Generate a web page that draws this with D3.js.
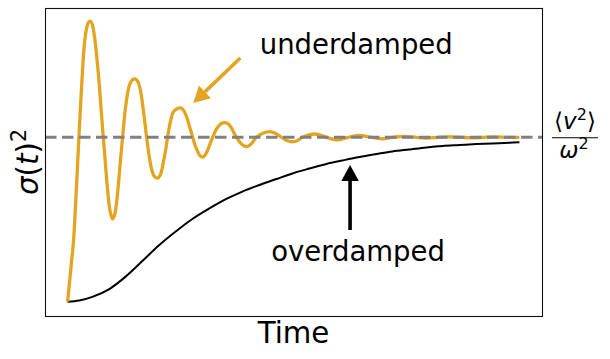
<!DOCTYPE html>
<html>
<head>
<meta charset="utf-8">
<script src="https://cdn.jsdelivr.net/npm/d3@7"></script>
<style>
  body { margin: 0; background: #fff; }
  svg { display: block; font-family: "DejaVu Sans", sans-serif; }
</style>
</head>
<body>
<svg id="chart" width="610" height="359"></svg>
<script>
// underdamped variance (time 0..10, equilibrium = 1)
const underTime = [0, 0.038, 0.082, 0.133, 0.182, 0.237, 0.281, 0.325, 0.370, 0.414, 0.458, 0.496,
  0.536, 0.591, 0.646, 0.702, 0.746, 0.790, 0.834, 0.879, 0.923, 0.961, 0.996,
  1.034, 1.078, 1.122, 1.167, 1.218, 1.266, 1.322, 1.377, 1.432, 1.492,
  1.550, 1.610, 1.676, 1.749, 1.809, 1.864, 1.919, 1.992,
  2.052, 2.108, 2.163, 2.214, 2.274, 2.340, 2.407, 2.462, 2.511,
  2.562, 2.628, 2.695, 2.767, 2.827, 2.894, 2.938, 2.982,
  3.037, 3.093, 3.159, 3.215, 3.270, 3.336, 3.403, 3.485,
  3.558, 3.624, 3.735, 3.845, 3.956, 4.066, 4.177, 4.321, 4.465, 4.598, 4.731,
  4.853, 4.975, 5.086, 5.196, 5.329, 5.462, 5.594, 5.727, 5.971, 6.214, 6.458,
  6.724, 6.967, 7.211, 7.454, 7.720, 7.964, 8.207, 8.451, 8.717, 8.960, 9.204,
  9.447, 9.713, 10.0];
const underValue = [0, 0.102, 0.229, 0.375, 0.619, 0.923, 1.166, 1.380, 1.561, 1.653, 1.698, 1.707,
  1.695, 1.622, 1.488, 1.318, 1.154, 1.002, 0.850, 0.698, 0.582, 0.527, 0.503,
  0.521, 0.588, 0.704, 0.850, 1.002, 1.142, 1.257, 1.324, 1.349, 1.355,
  1.342, 1.288, 1.166, 1.002, 0.880, 0.801, 0.762, 0.752,
  0.771, 0.832, 0.911, 1.002, 1.093, 1.154, 1.172, 1.178, 1.178,
  1.166, 1.130, 1.069, 1.002, 0.947, 0.905, 0.886, 0.880,
  0.889, 0.917, 0.965, 1.002, 1.038, 1.066, 1.084, 1.089,
  1.081, 1.057, 1.000, 0.960, 0.943, 0.960, 1.000, 1.025, 1.035, 1.025, 1.000,
  0.981, 0.973, 0.981, 1.000, 1.014, 1.020, 1.014, 1.000, 0.984, 1.000, 1.011,
  1.000, 0.991, 1.000, 1.006, 1.000, 0.995, 1.000, 1.003, 1.000, 0.997, 1.000,
  1.002, 1.000, 0.999];

// overdamped variance
const overTime = [0, 0.259, 0.547, 0.923, 1.300, 1.654, 2.030, 2.407, 2.761, 3.138, 3.514, 3.868,
  4.245, 4.621, 4.975, 5.352, 5.728, 6.083, 6.459, 6.836, 7.190, 7.566, 7.943,
  8.297, 8.673, 9.050, 9.404, 9.781, 10.0];
const overValue = [0, 0.007, 0.029, 0.077, 0.156, 0.247, 0.345, 0.430, 0.503, 0.567, 0.625, 0.670,
  0.710, 0.746, 0.780, 0.810, 0.838, 0.859, 0.880, 0.898, 0.914, 0.926, 0.938,
  0.947, 0.953, 0.959, 0.963, 0.967, 0.970];

const equilibrium = 1;

// annotation anchors in data units: [tail, tip]
const underArrow = [[3.823, 1.482], [2.783, 1.209]];
const overArrow = [[6.252, 0.436], [6.252, 0.8315]];
const underLabel = [4.253, 1.507];
const overLabel = [4.505, 0.2476];

const orange = "#e3a521";

let svg = d3.select("#chart");
let margin = {top: 8, right: 68, bottom: 43, left: 45},
    width = 610 - margin.left - margin.right,
    height = 359 - margin.top - margin.bottom;

let x = d3.scaleLinear().domain([-0.5, 10.5]).range([margin.left, margin.left + width]);
let y = d3.scaleLinear().domain([-0.087, 1.7865]).range([margin.top + height, margin.top]);

let line = d3.line()
    .x(function(d) { return x(d[0]); })
    .y(function(d) { return y(d[1]); })
    .curve(d3.curveCatmullRom.alpha(0.5));

let under = d3.zip(underTime, underValue);
let over = d3.zip(overTime, overValue);

svg.append("path")
    .datum(over)
    .attr("d", line)
    .attr("fill", "none")
    .attr("stroke", "#000")
    .attr("stroke-width", 2);

svg.append("path")
    .datum(under)
    .attr("d", line)
    .attr("fill", "none")
    .attr("stroke", orange)
    .attr("stroke-width", 3.3)
    .attr("stroke-linejoin", "round");

svg.append("line")
    .attr("x1", x.range()[0]).attr("x2", x.range()[1])
    .attr("y1", y(equilibrium)).attr("y2", y(equilibrium))
    .attr("stroke", "#808080")
    .attr("stroke-width", 3)
    .attr("stroke-dasharray", "11.5,5.5");

// frame
svg.append("rect")
    .attr("x", margin.left + 0.5).attr("y", margin.top + 0.5)
    .attr("width", width).attr("height", height)
    .attr("fill", "none")
    .attr("stroke", "#111")
    .attr("stroke-width", 1.1);

function arrow(pts, color) {
  let x0 = x(pts[0][0]), y0 = y(pts[0][1]),
      x1 = x(pts[1][0]), y1 = y(pts[1][1]);
  let len = Math.hypot(x1 - x0, y1 - y0),
      ux = (x1 - x0) / len, uy = (y1 - y0) / len,
      headLen = 16, headW = 17.5;
  let bx = x1 - ux * headLen, by = y1 - uy * headLen;
  svg.append("line")
      .attr("x1", x0).attr("y1", y0).attr("x2", bx).attr("y2", by)
      .attr("stroke", color).attr("stroke-width", 3.6);
  svg.append("path")
      .attr("d", "M" + x1 + "," + y1 +
        "L" + (bx - uy * headW / 2) + "," + (by + ux * headW / 2) +
        "L" + (bx + uy * headW / 2) + "," + (by - ux * headW / 2) + "Z")
      .attr("fill", color);
}
arrow(underArrow, orange);
arrow(overArrow, "#000");

svg.append("text")
    .attr("x", x(underLabel[0])).attr("y", y(underLabel[1]))
    .attr("font-size", 27.5)
    .text("underdamped");

svg.append("text")
    .attr("x", x(overLabel[0])).attr("y", y(overLabel[1]))
    .attr("font-size", 27.5)
    .text("overdamped");

// axis labels
svg.append("text")
    .attr("x", margin.left + width / 2).attr("y", 343)
    .attr("text-anchor", "middle")
    .attr("font-size", 29.3)
    .text("Time");

let ylab = svg.append("text")
    .attr("transform", "translate(38," + (margin.top + height / 2) + ") rotate(-90)")
    .attr("text-anchor", "middle")
    .attr("font-size", 29.3);
ylab.append("tspan").attr("font-style", "italic").text("σ");
ylab.append("tspan").text("(");
ylab.append("tspan").attr("font-style", "italic").text("t");
ylab.append("tspan").text(")");
ylab.append("tspan").attr("font-size", 20.5).attr("dy", -12).text("2");

// equilibrium label as a fraction
let fx = 575, fy = y(equilibrium);
let num = svg.append("text")
    .attr("x", fx).attr("y", fy - 8)
    .attr("text-anchor", "middle")
    .attr("font-size", 23);
num.append("tspan").text("⟨");
num.append("tspan").attr("font-style", "italic").text("v");
num.append("tspan").attr("font-size", 16).attr("dy", -9).text("2");
num.append("tspan").attr("dy", 9).text("⟩");

svg.append("line")
    .attr("x1", 552).attr("x2", 598)
    .attr("y1", fy + 0.5).attr("y2", fy + 0.5)
    .attr("stroke", "#000").attr("stroke-width", 1.1);

let den = svg.append("text")
    .attr("x", fx - 1).attr("y", fy + 21)
    .attr("text-anchor", "middle")
    .attr("font-size", 23);
den.append("tspan").attr("font-style", "italic").text("ω");
den.append("tspan").attr("font-size", 16).attr("dy", -9).text("2");
</script>
</body>
</html>
